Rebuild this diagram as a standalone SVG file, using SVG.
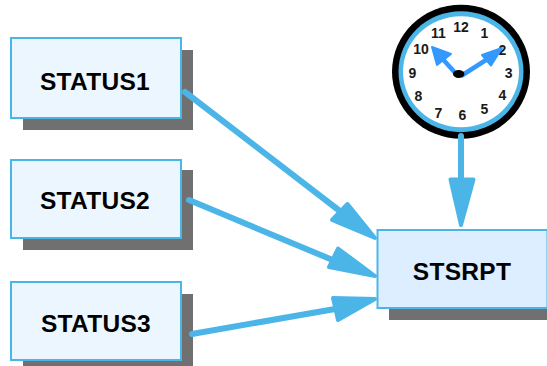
<svg xmlns="http://www.w3.org/2000/svg" width="547" height="366" viewBox="0 0 547 366">
<style>
.shadow{fill:#707070}
.box{stroke:#4cb5e8;stroke-width:2}
.status{fill:#ebf6ff}
.label{font-family:"Liberation Sans",Arial,sans-serif;font-weight:bold;font-size:24.500px;letter-spacing:0.300px;fill:#000;text-anchor:middle}
.num{font-family:"Liberation Sans",Arial,sans-serif;font-weight:bold;font-size:14px;fill:#1a1a1a;text-anchor:middle}
.conn{stroke:#4cb5e8;stroke-width:6;stroke-linecap:round;fill:none}
.head{fill:#4cb5e8;stroke:#4cb5e8;stroke-width:4;stroke-linejoin:round}
.hand{stroke:#3399ff;stroke-width:4.5;fill:none}
.handhead{fill:#3399ff;stroke:#3399ff;stroke-width:2;stroke-linejoin:round}
</style>
<g id="status1">
<rect class="shadow" x="23" y="50" width="170" height="80"/>
<rect class="box status" x="11" y="38" width="170" height="80"/>
<text class="label" x="95" y="90">STATUS1</text>
</g>
<g id="status2">
<rect class="shadow" x="23" y="170" width="170" height="80"/>
<rect class="box status" x="11" y="160" width="170" height="78"/>
<text class="label" x="95" y="209">STATUS2</text>
</g>
<g id="status3">
<rect class="shadow" x="23" y="294" width="170" height="72"/>
<rect class="box status" x="11" y="282" width="170" height="78"/>
<text class="label" x="96" y="332">STATUS3</text>
</g>
<g id="stsrpt">
<rect class="shadow" x="389" y="240" width="158" height="80"/>
<rect class="box" fill="#dceeff" x="377.500" y="230" width="170" height="78"/>
<text class="label" x="462" y="279.500">STSRPT</text>
</g>
<g id="clock">
<ellipse cx="461" cy="71.700" rx="69" ry="67" fill="#000"/>
<ellipse cx="461" cy="71.700" rx="62.500" ry="60.500" fill="#4cb5e8"/>
<ellipse cx="461" cy="71.700" rx="58" ry="55.500" fill="#fff"/>
<text class="num" x="461" y="32.300">12</text>
<text class="num" x="484.300" y="38.300">1</text>
<text class="num" x="502.300" y="55">2</text>
<text class="num" x="508.700" y="78.300">3</text>
<text class="num" x="502.300" y="100">4</text>
<text class="num" x="484.300" y="114">5</text>
<text class="num" x="462.300" y="120">6</text>
<text class="num" x="438.300" y="118.300">7</text>
<text class="num" x="418.300" y="100.700">8</text>
<text class="num" x="412.300" y="78.300">9</text>
<text class="num" x="421" y="54.300">10</text>
<text class="num" x="438.300" y="38.300">11</text>
<line class="hand" x1="458" y1="76" x2="440" y2="56"/>
<polygon class="handhead" points="432,47 451,54 437,65"/>
<line class="hand" x1="461" y1="76" x2="486" y2="60"/>
<polygon class="handhead" points="502,48 491,65.500 482,55"/>
<ellipse cx="458.700" cy="74" rx="5.700" ry="4" fill="#000"/>
</g>
<g id="connectors">
<line class="conn" x1="185" y1="92" x2="345" y2="215"/>
<polygon class="head" points="332,220 347.500,204 375,238"/>
<line class="conn" x1="189" y1="200" x2="335" y2="261"/>
<polygon class="head" points="329,267 338,248.500 375,276"/>
<line class="conn" x1="192" y1="334" x2="335" y2="309"/>
<polygon class="head" points="333,298 338,320 375,299"/>
<line class="conn" x1="461" y1="136" x2="461" y2="180"/>
<polygon class="head" points="450.500,179.500 473.500,179.500 461,225"/>
</g>
</svg>
